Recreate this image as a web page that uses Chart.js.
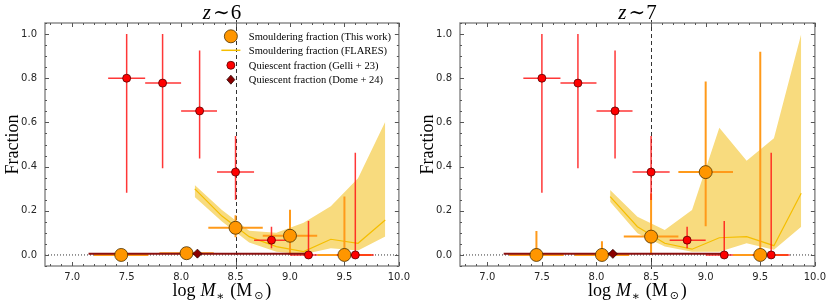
<!DOCTYPE html>
<html>
<head>
<meta charset="utf-8">
<script src="https://cdn.jsdelivr.net/npm/chart.js@4.4.1/dist/chart.umd.min.js"></script>
<style>
  html, body { margin: 0; padding: 0; background: #fff; }
  #wrap { display: flex; width: 831px; height: 306px; }
  canvas { display: block; }
</style>
</head>
<body>
<div id="wrap">
  <canvas id="c6" width="415" height="306"></canvas>
  <canvas id="c7" width="416" height="306"></canvas>
</div>
<script>
// axis tick labels
const xTicks = [7.0, 7.5, 8.0, 8.5, 9.0, 9.5, 10.0];
const yTicks = [0.0, 0.2, 0.4, 0.6, 0.8, 1.0];
const markMass = 8.5;

const legendLabels = [
  'Smouldering fraction (This work)',
  'Smouldering fraction (FLARES)',
  'Quiescent fraction (Gelli + 23)',
  'Quiescent fraction (Dome + 24)'
];

// smouldering fraction, this work
const smMass   = [7.45, 8.05, 8.5, 9.0, 9.5];
const smMassLo = [7.2, 7.8, 8.25, 8.75, 9.25];
const smMassHi = [7.7, 8.3, 8.75, 9.25, 9.75];
const smFracZ6 = [0.0, 0.008, 0.123, 0.087, 0.0];
const smLoZ6   = [0.0, 0.008, 0.08, 0.0, 0.0];
const smHiZ6   = [0.0, 0.008, 0.18, 0.205, 0.265];
const smFracZ7 = [0.0, 0.0, 0.083, 0.375, 0.0];
const smLoZ7   = [0.0, 0.0, 0.0, 0.13, 0.0];
const smHiZ7   = [0.108, 0.062, 0.278, 0.785, 0.92];

// smouldering fraction, FLARES (median and band)
const flMass  = [8.125, 8.375, 8.625, 8.875, 9.125, 9.375, 9.625, 9.875];
const flMedZ6 = [0.299, 0.176, 0.083, 0.038, 0.015, 0.071, 0.053, 0.158];
const flLoZ6  = [0.262, 0.151, 0.056, 0.015, 0.003, 0.03, 0.02, 0.083];
const flHiZ6  = [0.317, 0.204, 0.11, 0.1, 0.146, 0.22, 0.347, 0.603];
const flMedZ7 = [0.264, 0.128, 0.053, 0.026, 0.078, 0.083, 0.042, 0.279];
const flLoZ7  = [0.241, 0.098, 0.038, 0.015, 0.015, 0.053, 0.023, 0.128];
const flHiZ7  = [0.294, 0.173, 0.113, 0.204, 0.576, 0.427, 0.528, 1.0];

// quiescent fraction, Gelli+23 (same in both panels)
const geMass   = [7.5, 7.83, 8.17, 8.5, 8.83, 9.17, 9.6];
const geMassLo = [7.33, 7.67, 8.0, 8.33, 8.67, 9.0, 9.43];
const geMassHi = [7.67, 8.0, 8.33, 8.67, 9.0, 9.25, 9.77];
const geFrac   = [0.8, 0.778, 0.652, 0.375, 0.067, 0.0, 0.0];
const geLo     = [0.282, 0.392, 0.437, 0.249, 0.03, 0.0, 0.0];
const geHi     = [1.0, 1.0, 0.925, 0.538, 0.128, 0.154, 0.463];

// quiescent fraction, Dome+24
const doMass   = [8.15];
const doMassLo = [7.15];
const doMassHi = [9.15];
const doFracZ6 = [0.006];
const doFracZ7 = [0.005];

const serif = '"Liberation Serif", "DejaVu Serif", serif';

function points(xs, ys) {
  return xs.map((x, i) => ({ x: x, y: ys[i] }));
}

// error bars as broken line segments
function errorSegments(xs, ys, xlo, xhi, ylo, yhi) {
  const pts = [];
  xs.forEach((x, i) => {
    pts.push({ x: xlo[i], y: ys[i] }, { x: xhi[i], y: ys[i] }, { x: xhi[i], y: null });
    if (yhi[i] > ylo[i]) {
      pts.push({ x: x, y: ylo[i] }, { x: x, y: yhi[i] }, { x: x, y: null });
    }
  });
  return pts;
}

// draws a row of text pieces [text, font, dy, gapAfter] centred on cx
function drawPieces(ctx, pieces, cx, base) {
  let total = 0;
  pieces.forEach(p => { ctx.font = p[1]; total += ctx.measureText(p[0]).width + p[3]; });
  let x = cx - total / 2;
  pieces.forEach(p => {
    ctx.font = p[1];
    ctx.fillText(p[0], x, base + p[2]);
    x += ctx.measureText(p[0]).width + p[3];
  });
}

const panelDeco = {
  id: 'panelDeco',
  beforeDatasetsDraw(chart) {
    const { ctx, chartArea: a, scales: { x, y } } = chart;
    ctx.save();
    // dotted zero line
    ctx.strokeStyle = '#333';
    ctx.lineWidth = 1;
    ctx.setLineDash([1, 2]);
    ctx.beginPath();
    ctx.moveTo(a.left, y.getPixelForValue(0));
    ctx.lineTo(a.right, y.getPixelForValue(0));
    ctx.stroke();
    // dashed line at log M = 8.5
    const px = Math.round(x.getPixelForValue(markMass)) + 0.5;
    ctx.setLineDash([4, 3]);
    ctx.beginPath();
    ctx.moveTo(px, a.top - 3);
    ctx.lineTo(px, a.bottom + 4);
    ctx.stroke();
    ctx.restore();
  },
  afterDatasetsDraw(chart, args, opts) {
    const { ctx, chartArea: a, scales: { x, y } } = chart;
    ctx.save();
    // frame
    ctx.strokeStyle = '#8c8c8c';
    ctx.lineWidth = 1.5;
    ctx.strokeRect(a.left, a.top, a.right - a.left, a.bottom - a.top);
    // inward ticks on all sides
    ctx.lineWidth = 1;
    ctx.strokeStyle = '#555';
    ctx.beginPath();
    for (let k = 68; k <= 100; k++) {
      const v = k / 10;
      const len = k % 5 === 0 ? 4 : 2;
      const p = Math.round(x.getPixelForValue(v)) + 0.5;
      ctx.moveTo(p, a.bottom); ctx.lineTo(p, a.bottom - len);
      ctx.moveTo(p, a.top); ctx.lineTo(p, a.top + len);
    }
    for (let k = -1; k <= 21; k++) {
      const v = k / 20;
      const len = k % 4 === 0 ? 4 : 2;
      const p = Math.round(y.getPixelForValue(v)) + 0.5;
      ctx.moveTo(a.left, p); ctx.lineTo(a.left + len, p);
      ctx.moveTo(a.right, p); ctx.lineTo(a.right - len, p);
    }
    ctx.stroke();

    ctx.fillStyle = '#000';
    ctx.textBaseline = 'alphabetic';
    ctx.textAlign = 'left';
    const cx = (a.left + a.right) / 2;

    // panel title  z ~ 6
    drawPieces(ctx, [
      ['z', 'italic 21px ' + serif, 0, 2],
      ['\u223C', '20px "DejaVu Serif", serif', 0, 1],
      [opts.redshift, '21px ' + serif, 0, 0]
    ], cx, a.top - 4);

    // x axis label: log M_* (M_sun)
    drawPieces(ctx, [
      ['log', '18px ' + serif, 0, 5],
      ['M', 'italic 18px ' + serif, 0, 0.5],
      ['\u2217', '12px "DejaVu Serif", serif', 4, 6],
      ['(M', '18px ' + serif, 0, 2],
      ['\u2299', '11px "DejaVu Sans", sans-serif', 3, 2],
      [')', '18px ' + serif, 0, 0]
    ], cx, a.bottom + 30);

    // legend (left panel only)
    if (opts.legend) {
      const mx = a.right - 168;
      const tx0 = a.right - 150;
      const rows = [a.top + 13.3, a.top + 27.3, a.top + 42.3, a.top + 56.7];
      ctx.font = '10.5px ' + serif;
      ctx.textBaseline = 'middle';
      legendLabels.forEach((lab, i) => ctx.fillText(lab, tx0, rows[i] + 0.5));
      // markers
      ctx.lineWidth = 0.8;
      ctx.fillStyle = '#FF9600'; ctx.strokeStyle = '#4a3000';
      ctx.beginPath(); ctx.arc(mx, rows[0], 6.5, 0, Math.PI * 2); ctx.fill(); ctx.stroke();
      ctx.strokeStyle = '#F5BE00'; ctx.lineWidth = 1.5;
      ctx.beginPath(); ctx.moveTo(mx - 9.5, rows[1]); ctx.lineTo(mx + 9.5, rows[1]); ctx.stroke();
      ctx.lineWidth = 0.8;
      ctx.fillStyle = '#FF0000'; ctx.strokeStyle = '#5a0000';
      ctx.beginPath(); ctx.arc(mx, rows[2], 4, 0, Math.PI * 2); ctx.fill(); ctx.stroke();
      ctx.fillStyle = '#8B0000'; ctx.strokeStyle = '#2a0000';
      ctx.beginPath();
      ctx.moveTo(mx, rows[3] - 4.5); ctx.lineTo(mx + 4, rows[3]);
      ctx.lineTo(mx, rows[3] + 4.5); ctx.lineTo(mx - 4, rows[3]);
      ctx.closePath(); ctx.fill(); ctx.stroke();
    }
    ctx.restore();
  }
};

function makeChart(id, redshift, showLegend, sm, fl, doFrac) {
  const datasets = [
    { label: 'Dome + 24', data: points(doMass, doFrac), pointStyle: 'rectRot', pointRadius: 4.5,
      backgroundColor: '#8B0000', borderColor: '#2a0000', borderWidth: 0.8, order: 1 },
    { label: 'Gelli + 23', data: points(geMass, geFrac), pointRadius: 4,
      backgroundColor: '#FF0000', borderColor: '#5a0000', borderWidth: 0.8, order: 2 },
    { label: 'This work', data: points(smMass, sm.frac), pointRadius: 6.5,
      backgroundColor: '#FF9600', borderColor: '#4a3000', borderWidth: 0.8, order: 3 },
    { label: 'Dome bars', data: errorSegments(doMass, doFrac, doMassLo, doMassHi, doFrac, doFrac),
      showLine: true, pointRadius: 0, borderColor: '#8B1010', borderWidth: 2, order: 4 },
    { label: 'Gelli bars', data: errorSegments(geMass, geFrac, geMassLo, geMassHi, geLo, geHi),
      showLine: true, pointRadius: 0, borderColor: 'rgba(255,20,20,0.85)', borderWidth: 1.5, order: 5 },
    { label: 'This work bars', data: errorSegments(smMass, sm.frac, smMassLo, smMassHi, sm.lo, sm.hi),
      showLine: true, pointRadius: 0, borderColor: '#FF9A1A', borderWidth: 2, order: 6 },
    { label: 'FLARES', data: points(flMass, fl.med), showLine: true, pointRadius: 0,
      borderColor: '#F5BE00', borderWidth: 1.2, order: 7 },
    { label: 'FLARES upper', data: points(flMass, fl.hi), showLine: true, pointRadius: 0,
      borderWidth: 0, borderColor: 'rgba(0,0,0,0)', backgroundColor: '#F8DB7E', fill: '+1', order: 8 },
    { label: 'FLARES lower', data: points(flMass, fl.lo), showLine: true, pointRadius: 0,
      borderWidth: 0, borderColor: 'rgba(0,0,0,0)', fill: false, order: 9 }
  ];

  return new Chart(document.getElementById(id), {
    type: 'scatter',
    data: { datasets },
    options: {
      responsive: false,
      animation: false,
      events: [],
      layout: { padding: { top: 23, right: id === 'c6' ? 13 : 14, left: 0, bottom: 0 } },
      plugins: {
        legend: { display: false },
        tooltip: { enabled: false },
        panelDeco: { redshift, legend: showLegend }
      },
      scales: {
        x: {
          type: 'linear', min: 6.75, max: 10.0,
          grid: { display: false, drawTicks: false }, border: { display: false },
          afterBuildTicks: s => { s.ticks = xTicks.map(v => ({ value: v })); },
          afterFit: s => { s.height = 40; },
          ticks: { padding: 5, color: '#262626', font: { family: 'DejaVu Sans', size: 10 },
                   callback: v => Number(v).toFixed(1) }
        },
        y: {
          type: 'linear', min: -0.05, max: 1.05,
          grid: { display: false, drawTicks: false }, border: { display: false },
          afterBuildTicks: s => { s.ticks = yTicks.map(v => ({ value: v })); },
          afterFit: s => { s.width = 45; },
          title: { display: true, text: 'Fraction', color: '#000', padding: { top: 2, bottom: 0 },
                   font: { family: 'Liberation Serif', size: 18, weight: 'normal' } },
          ticks: { padding: 8, color: '#262626', font: { family: 'DejaVu Sans', size: 10 },
                   callback: v => Number(v).toFixed(1) }
        }
      }
    },
    plugins: [panelDeco]
  });
}

makeChart('c6', '6', true,
  { frac: smFracZ6, lo: smLoZ6, hi: smHiZ6 },
  { med: flMedZ6, lo: flLoZ6, hi: flHiZ6 }, doFracZ6);
makeChart('c7', '7', false,
  { frac: smFracZ7, lo: smLoZ7, hi: smHiZ7 },
  { med: flMedZ7, lo: flLoZ7, hi: flHiZ7 }, doFracZ7);
</script>
</body>
</html>
